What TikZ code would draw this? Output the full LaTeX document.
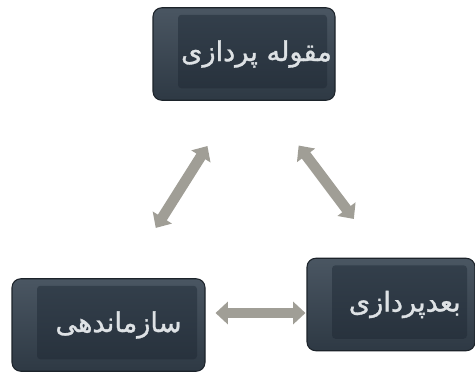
\documentclass[tikz,border=0pt]{standalone}
\usepackage{fontspec}
\usepackage{tikz}
\usetikzlibrary{positioning, arrows.meta, calc}
\TeXXeTstate=1
\newfontfamily\arabicfont[Script=Arabic, FakeBold=1.2]{DejaVu Sans}

\definecolor{rimtop}{RGB}{74,86,98}
\definecolor{rimbot}{RGB}{46,57,68}
\definecolor{facetop}{RGB}{52,64,76}
\definecolor{facebot}{RGB}{38,48,59}
\definecolor{boxline}{RGB}{28,35,42}
\definecolor{boxtext}{RGB}{222,226,229}
\definecolor{arrowgray}{RGB}{160,158,150}

\begin{document}
\begin{tikzpicture}
    % Styles
    \tikzset{
        stage/.style={rounded corners=5pt, top color=rimtop, bottom color=rimbot, draw=boxline, line width=0.6pt,
            minimum height=1.85cm, inner xsep=0pt, text=boxtext, font=\arabicfont\fontsize{15.5}{17}\selectfont,
            path picture={\shade[top color=facetop, bottom color=facebot, rounded corners=2pt]
                ([shift={(0.5cm,0.24cm)}]path picture bounding box.south west) rectangle
                ([shift={(-0.16cm,-0.14cm)}]path picture bounding box.north east);}},
        twoway/.style 2 args={line width=6pt, draw=arrowgray,
            {Triangle[width=12.5pt,length=7pt]}-{Triangle[width=12.5pt,length=7pt]},
            shorten <=#1, shorten >=#2},
    }
    \useasboundingbox (0,0) rectangle (9.5,-7.58);

    % Stages
    \node (top) [stage, minimum width=3.64cm] at (4.88,-1.08) {\hspace*{0.5cm}\beginR مقوله پردازی\endR};
    \node (left) [stage, minimum width=3.86cm] at (2.17,-6.5) {\hspace*{0.4cm}\beginR سازماندهی\endR};
    \node (right) [stage, minimum width=3.36cm] at (7.82,-6.09) {\hspace*{0.55cm}\beginR بعدپردازی\endR};

    % Two-way arrows
    \draw [twoway={1.07cm}{1.19cm}] ([xshift=-0.16cm]top.south) -- ([xshift=0.31cm]left.north);
    \draw [twoway={1.12cm}{0.97cm}] ([xshift=0.42cm]top.south) -- ([xshift=-0.16cm]right.north);
    \draw [twoway={0.2cm}{0.02cm}] ([yshift=0.24cm]left.east) -- ([yshift=0.24cm]left.east -| right.west);

\end{tikzpicture}
\end{document}
